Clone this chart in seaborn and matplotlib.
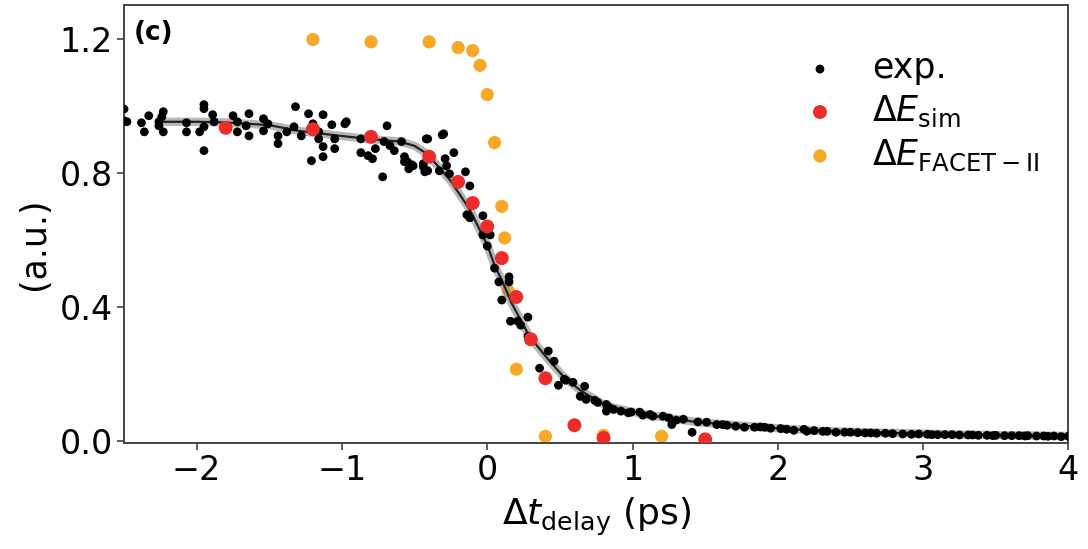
import numpy as np
import pandas as pd
import matplotlib
matplotlib.use("Agg")
import matplotlib.pyplot as plt
import seaborn as sns

# ---------------- data ----------------
exp_x = [-2.5, -2.5, -2.48, -2.38, -2.36, -2.33, -2.26, -2.24, -2.23, -2.26,
         -2.23, -2.07, -2.07, -1.98, -1.95, -1.95, -1.95, -1.89, -1.88, -1.95,
         -1.75, -1.72, -1.72, -1.66, -1.64, -1.64, -1.54, -1.51, -1.54, -1.44,
         -1.44, -1.38, -1.32, -1.33, -1.28, -1.23, -1.21, -1.16, -1.13, -1.20,
         -1.07, -0.98, -0.97, -1.16, -1.13, -1.05, -1.05, -1.13, -0.87, -0.87,
         -0.82, -0.79, -0.77, -0.71, -0.69, -0.67, -0.64, -0.59, -0.72, -0.57,
         -0.55, -0.54, -0.51, -0.41, -0.31, -0.44, -0.43, -0.33, -0.29, -0.28,
         -0.26, -0.42, -0.30, -0.57, -0.52, -0.44, -0.41, -0.23, -0.15, -0.12,
         -0.14, -0.12, -0.03, -0.03, 0.02, 0.00, 0.05, 0.08, 0.15, 0.15,
         0.10, 0.16, 0.21, 0.23, 0.28, 0.28, 0.42, 0.46, 0.36, 0.49,
         0.53, 0.59, 0.67, 0.64, 0.54, 0.68, 0.74, 0.76, 0.82, 0.84,
         0.82, 0.87, 0.92, 0.99, 1.05, 1.07, 1.14, 1.21, 1.27, 1.30,
         1.35, 1.41, 1.51, 1.58, 1.65, 1.71, 1.77, 1.84, 1.91, 1.95,
         2.06, 2.11, 2.18, 2.20, 2.31, 2.34, 2.40, 2.46, 2.55, 2.60,
         2.68, 2.74, 2.79, 2.86, 2.92, 3.03, 3.06, 3.10, 3.20, 3.31,
         3.34, 3.38, 3.44, 3.50, 3.56, 3.66, 3.72, 3.78, 3.83, 3.90,
         4.00, 0.97, 1.12, 1.25, 1.45, 1.62, 1.88, 2.02, 2.25, 2.50,
         2.64, 2.97, 3.15, 3.25, 3.48, 3.61, 3.70, 3.86, 3.95]
exp_y = [0.990, 0.955, 0.952, 0.949, 0.922, 0.970, 0.952, 0.967, 0.982, 0.940,
         0.922, 0.949, 0.922, 0.922, 0.937, 1.003, 0.991, 0.973, 0.952, 0.866,
         0.970, 0.952, 0.922, 0.940, 0.976, 0.910, 0.961, 0.946, 0.925, 0.910,
         0.887, 0.922, 0.997, 0.937, 0.910, 0.976, 0.836, 0.922, 0.973, 0.946,
         0.943, 0.946, 0.952, 0.901, 0.878, 0.901, 0.872, 0.848, 0.901, 0.860,
         0.851, 0.842, 0.872, 0.893, 0.940, 0.881, 0.866, 0.893, 0.788, 0.848,
         0.833, 0.812, 0.821, 0.901, 0.913, 0.818, 0.803, 0.806, 0.842, 0.821,
         0.797, 0.901, 0.916, 0.833, 0.824, 0.827, 0.806, 0.860, 0.803, 0.761,
         0.675, 0.666, 0.672, 0.615, 0.615, 0.582, 0.516, 0.475, 0.490, 0.475,
         0.421, 0.358, 0.358, 0.346, 0.370, 0.313, 0.269, 0.239, 0.218, 0.167,
         0.185, 0.176, 0.164, 0.134, 0.182, 0.125, 0.122, 0.116, 0.110, 0.101,
         0.090, 0.095, 0.090, 0.087, 0.087, 0.078, 0.075, 0.075, 0.050, 0.063,
         0.066, 0.027, 0.057, 0.050, 0.048, 0.045, 0.042, 0.042, 0.042, 0.039,
         0.036, 0.033, 0.036, 0.030, 0.030, 0.030, 0.027, 0.027, 0.026, 0.025,
         0.024, 0.024, 0.023, 0.022, 0.021, 0.021, 0.020, 0.020, 0.020, 0.019,
         0.019, 0.018, 0.018, 0.018, 0.017, 0.017, 0.017, 0.016, 0.016, 0.016,
         0.015, 0.085, 0.080, 0.070, 0.058, 0.050, 0.043, 0.038, 0.032, 0.027,
         0.025, 0.022, 0.020, 0.019, 0.017, 0.017, 0.016, 0.015, 0.014]

fit_x = [-2.23, -2.0, -1.8, -1.5, -1.3, -1.05, -0.8, -0.6, -0.5, -0.42,
         -0.36, -0.25, -0.12, 0.0, 0.05, 0.1, 0.17, 0.29, 0.4, 0.52,
         0.64, 0.82, 1.1, 1.45, 1.9, 2.3, 2.8, 3.3, 3.7, 4.0]
fit_y = [0.952, 0.952, 0.950, 0.942, 0.925, 0.912, 0.900, 0.893, 0.880, 0.858,
         0.830, 0.775, 0.690, 0.585, 0.525, 0.480, 0.410, 0.313, 0.254, 0.195,
         0.152, 0.105, 0.079, 0.057, 0.042, 0.031, 0.025, 0.020, 0.018, 0.016]

sim_x = [-1.8, -1.2, -0.8, -0.4, -0.2, -0.1, 0.0, 0.1, 0.2, 0.3, 0.4, 0.6, 0.8, 1.5]
sim_y = [0.934, 0.930, 0.907, 0.848, 0.773, 0.710, 0.640, 0.546, 0.430, 0.304,
         0.188, 0.048, 0.010, 0.006]

facet_x = [-1.2, -0.8, -0.4, -0.2, -0.1, -0.05, 0.0, 0.05, 0.1, 0.12,
           0.145, 0.2, 0.4, 0.8, 1.2]
facet_y = [1.197, 1.190, 1.190, 1.173, 1.164, 1.120, 1.033, 0.890, 0.700, 0.606,
           0.448, 0.215, 0.015, 0.018, 0.015]

x_ticks = [-2, -1, 0, 1, 2, 3, 4]
y_ticks = [0.0, 0.4, 0.8, 1.2]

# ---------------- styling ----------------
sns.set_theme(style="ticks")
plt.rcParams["font.family"] = ["DejaVu Sans"]
plt.rcParams["mathtext.fontset"] = "dejavusans"
plt.rcParams["text.color"] = "black"
plt.rcParams["axes.labelcolor"] = "black"
plt.rcParams["xtick.labelcolor"] = "black"
plt.rcParams["ytick.labelcolor"] = "black"

fig = plt.figure(figsize=(10.88, 5.49), dpi=100)
ax = fig.add_axes([0.114, 0.193, 0.868, 0.798])

df_exp = pd.DataFrame({"x": exp_x, "y": exp_y})
df_fit = pd.DataFrame({"x": fit_x, "y": fit_y})
df_sim = pd.DataFrame({"x": sim_x, "y": sim_y})
df_facet = pd.DataFrame({"x": facet_x, "y": facet_y})

red = "#ec2b2b"
orange = "#f7a826"

lab_exp = "exp."
lab_sim = r"$\Delta E_{\rm sim}$"
lab_facet = r"$\Delta E_{\rm FACET-II}$"

sns.scatterplot(data=df_facet, x="x", y="y", ax=ax, color=orange, s=90,
                edgecolor="none", zorder=1, label=lab_facet)
sns.lineplot(data=df_fit, x="x", y="y", ax=ax, color="#888888", lw=6, alpha=0.6,
             sort=False, estimator=None, zorder=2, legend=False)
sns.lineplot(data=df_fit, x="x", y="y", ax=ax, color="#222222", lw=1.6,
             sort=False, estimator=None, zorder=2.5, legend=False)
sns.scatterplot(data=df_exp, x="x", y="y", ax=ax, color="black", s=40,
                edgecolor="none", zorder=3, label=lab_exp)
sns.scatterplot(data=df_sim, x="x", y="y", ax=ax, color=red, s=100,
                edgecolor="none", zorder=4, label=lab_sim)

ax.set_xlim(-2.5, 4)
ax.set_ylim(-0.005, 1.3)
ax.set_xticks(x_ticks)
ax.set_yticks(y_ticks)
ax.set_yticklabels([f"{v:.1f}" for v in y_ticks])
ax.tick_params(axis="both", labelsize=24, length=5, width=1.2, color="#444444",
               direction="out", pad=3)
for sp in ax.spines.values():
    sp.set_visible(True)
    sp.set_color("#444444")
    sp.set_linewidth(1.4)

ax.set_xlabel(r"$\Delta t_{\rm delay}$ (ps)", fontsize=26, labelpad=6)
ax.set_ylabel("(a.u.)", fontsize=25)
ax.yaxis.set_label_coords(-0.077, 0.455)
ax.text(0.01, 0.965, "(c)", transform=ax.transAxes, fontsize=19,
        fontweight="bold", va="top", ha="left")

handles, labels = ax.get_legend_handles_labels()
order = [labels.index(lab_exp), labels.index(lab_sim), labels.index(lab_facet)]
ax.legend([handles[i] for i in order], [labels[i] for i in order],
          loc="upper right", bbox_to_anchor=(0.995, 0.95), frameon=False,
          fontsize=25, handletextpad=0.5, labelspacing=0.25, borderaxespad=0.3)

fig.savefig("out.png", dpi=100)
